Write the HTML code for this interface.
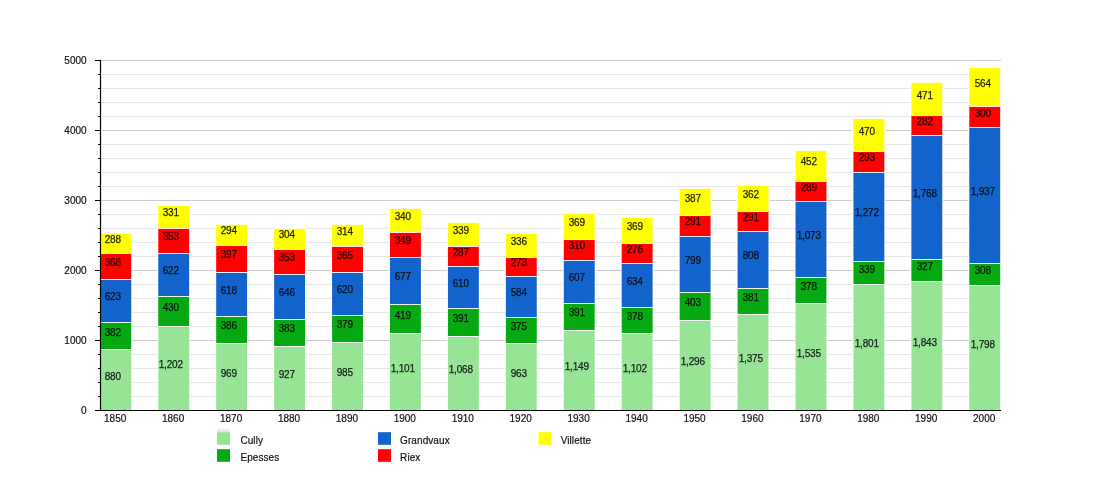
<!DOCTYPE html>
<html><head><meta charset="utf-8"><title>Population</title>
<style>html,body{margin:0;padding:0;background:#fff}svg{display:block;will-change:transform;opacity:0.999}</style>
</head><body>
<svg width="1100" height="500" viewBox="0 0 1100 500">
<rect width="1100" height="500" fill="#fff"/>
<line x1="101" x2="1001" y1="396.5" y2="396.5" stroke="#e6e6e6" stroke-width="1"/>
<line x1="101" x2="1001" y1="382.5" y2="382.5" stroke="#e6e6e6" stroke-width="1"/>
<line x1="101" x2="1001" y1="368.5" y2="368.5" stroke="#e6e6e6" stroke-width="1"/>
<line x1="101" x2="1001" y1="354.5" y2="354.5" stroke="#e6e6e6" stroke-width="1"/>
<line x1="101" x2="1001" y1="340.5" y2="340.5" stroke="#cccccc" stroke-width="1"/>
<line x1="101" x2="1001" y1="326.5" y2="326.5" stroke="#e6e6e6" stroke-width="1"/>
<line x1="101" x2="1001" y1="312.5" y2="312.5" stroke="#e6e6e6" stroke-width="1"/>
<line x1="101" x2="1001" y1="298.5" y2="298.5" stroke="#e6e6e6" stroke-width="1"/>
<line x1="101" x2="1001" y1="284.5" y2="284.5" stroke="#e6e6e6" stroke-width="1"/>
<line x1="101" x2="1001" y1="270.5" y2="270.5" stroke="#cccccc" stroke-width="1"/>
<line x1="101" x2="1001" y1="256.5" y2="256.5" stroke="#e6e6e6" stroke-width="1"/>
<line x1="101" x2="1001" y1="242.5" y2="242.5" stroke="#e6e6e6" stroke-width="1"/>
<line x1="101" x2="1001" y1="228.5" y2="228.5" stroke="#e6e6e6" stroke-width="1"/>
<line x1="101" x2="1001" y1="214.5" y2="214.5" stroke="#e6e6e6" stroke-width="1"/>
<line x1="101" x2="1001" y1="200.5" y2="200.5" stroke="#cccccc" stroke-width="1"/>
<line x1="101" x2="1001" y1="186.5" y2="186.5" stroke="#e6e6e6" stroke-width="1"/>
<line x1="101" x2="1001" y1="172.5" y2="172.5" stroke="#e6e6e6" stroke-width="1"/>
<line x1="101" x2="1001" y1="158.5" y2="158.5" stroke="#e6e6e6" stroke-width="1"/>
<line x1="101" x2="1001" y1="144.5" y2="144.5" stroke="#e6e6e6" stroke-width="1"/>
<line x1="101" x2="1001" y1="130.5" y2="130.5" stroke="#cccccc" stroke-width="1"/>
<line x1="101" x2="1001" y1="116.5" y2="116.5" stroke="#e6e6e6" stroke-width="1"/>
<line x1="101" x2="1001" y1="102.5" y2="102.5" stroke="#e6e6e6" stroke-width="1"/>
<line x1="101" x2="1001" y1="88.5" y2="88.5" stroke="#e6e6e6" stroke-width="1"/>
<line x1="101" x2="1001" y1="74.5" y2="74.5" stroke="#e6e6e6" stroke-width="1"/>
<line x1="101" x2="1001" y1="60.5" y2="60.5" stroke="#cccccc" stroke-width="1"/>
<rect x="99.35" y="232.5" width="32.90" height="177.5" fill="#fff"/>
<rect x="100.35" y="349" width="30.9" height="61.0" fill="#97e497"/>
<rect x="100.35" y="349" width="30.9" height="1" fill="#fff" fill-opacity="0.9"/>
<rect x="100.35" y="322" width="30.9" height="27" fill="#06a912"/>
<rect x="100.35" y="322" width="30.9" height="1" fill="#fff" fill-opacity="0.9"/>
<rect x="100.35" y="279" width="30.9" height="43" fill="#1263cc"/>
<rect x="100.35" y="279" width="30.9" height="1" fill="#fff" fill-opacity="0.9"/>
<rect x="100.35" y="253" width="30.9" height="26" fill="#fe0000"/>
<rect x="100.35" y="253" width="30.9" height="1" fill="#fff" fill-opacity="0.9"/>
<rect x="100.35" y="233" width="30.9" height="20" fill="#ffff00"/>
<rect x="100.35" y="233" width="30.9" height="1" fill="#fff" fill-opacity="0.9"/>
<rect x="157.28" y="204.5" width="32.90" height="205.5" fill="#fff"/>
<rect x="158.28" y="326" width="30.9" height="84.0" fill="#97e497"/>
<rect x="158.28" y="326" width="30.9" height="1" fill="#fff" fill-opacity="0.9"/>
<rect x="158.28" y="296" width="30.9" height="30" fill="#06a912"/>
<rect x="158.28" y="296" width="30.9" height="1" fill="#fff" fill-opacity="0.9"/>
<rect x="158.28" y="253" width="30.9" height="43" fill="#1263cc"/>
<rect x="158.28" y="253" width="30.9" height="1" fill="#fff" fill-opacity="0.9"/>
<rect x="158.28" y="228" width="30.9" height="25" fill="#fe0000"/>
<rect x="158.28" y="228" width="30.9" height="1" fill="#fff" fill-opacity="0.9"/>
<rect x="158.28" y="205" width="30.9" height="23" fill="#ffff00"/>
<rect x="158.28" y="205" width="30.9" height="1" fill="#fff" fill-opacity="0.9"/>
<rect x="215.21" y="223.5" width="32.90" height="186.5" fill="#fff"/>
<rect x="216.21" y="343" width="30.9" height="67.0" fill="#97e497"/>
<rect x="216.21" y="343" width="30.9" height="1" fill="#fff" fill-opacity="0.9"/>
<rect x="216.21" y="316" width="30.9" height="27" fill="#06a912"/>
<rect x="216.21" y="316" width="30.9" height="1" fill="#fff" fill-opacity="0.9"/>
<rect x="216.21" y="272" width="30.9" height="44" fill="#1263cc"/>
<rect x="216.21" y="272" width="30.9" height="1" fill="#fff" fill-opacity="0.9"/>
<rect x="216.21" y="245" width="30.9" height="27" fill="#fe0000"/>
<rect x="216.21" y="245" width="30.9" height="1" fill="#fff" fill-opacity="0.9"/>
<rect x="216.21" y="224" width="30.9" height="21" fill="#ffff00"/>
<rect x="216.21" y="224" width="30.9" height="1" fill="#fff" fill-opacity="0.9"/>
<rect x="273.14" y="227.5" width="32.90" height="182.5" fill="#fff"/>
<rect x="274.14" y="346" width="30.9" height="64.0" fill="#97e497"/>
<rect x="274.14" y="346" width="30.9" height="1" fill="#fff" fill-opacity="0.9"/>
<rect x="274.14" y="319" width="30.9" height="27" fill="#06a912"/>
<rect x="274.14" y="319" width="30.9" height="1" fill="#fff" fill-opacity="0.9"/>
<rect x="274.14" y="274" width="30.9" height="45" fill="#1263cc"/>
<rect x="274.14" y="274" width="30.9" height="1" fill="#fff" fill-opacity="0.9"/>
<rect x="274.14" y="249" width="30.9" height="25" fill="#fe0000"/>
<rect x="274.14" y="249" width="30.9" height="1" fill="#fff" fill-opacity="0.9"/>
<rect x="274.14" y="228" width="30.9" height="21" fill="#ffff00"/>
<rect x="274.14" y="228" width="30.9" height="1" fill="#fff" fill-opacity="0.9"/>
<rect x="331.07" y="223.5" width="32.90" height="186.5" fill="#fff"/>
<rect x="332.07" y="342" width="30.9" height="68.0" fill="#97e497"/>
<rect x="332.07" y="342" width="30.9" height="1" fill="#fff" fill-opacity="0.9"/>
<rect x="332.07" y="315" width="30.9" height="27" fill="#06a912"/>
<rect x="332.07" y="315" width="30.9" height="1" fill="#fff" fill-opacity="0.9"/>
<rect x="332.07" y="272" width="30.9" height="43" fill="#1263cc"/>
<rect x="332.07" y="272" width="30.9" height="1" fill="#fff" fill-opacity="0.9"/>
<rect x="332.07" y="246" width="30.9" height="26" fill="#fe0000"/>
<rect x="332.07" y="246" width="30.9" height="1" fill="#fff" fill-opacity="0.9"/>
<rect x="332.07" y="224" width="30.9" height="22" fill="#ffff00"/>
<rect x="332.07" y="224" width="30.9" height="1" fill="#fff" fill-opacity="0.9"/>
<rect x="389.00" y="207.5" width="32.90" height="202.5" fill="#fff"/>
<rect x="390.00" y="333" width="30.9" height="77.0" fill="#97e497"/>
<rect x="390.00" y="333" width="30.9" height="1" fill="#fff" fill-opacity="0.9"/>
<rect x="390.00" y="304" width="30.9" height="29" fill="#06a912"/>
<rect x="390.00" y="304" width="30.9" height="1" fill="#fff" fill-opacity="0.9"/>
<rect x="390.00" y="257" width="30.9" height="47" fill="#1263cc"/>
<rect x="390.00" y="257" width="30.9" height="1" fill="#fff" fill-opacity="0.9"/>
<rect x="390.00" y="232" width="30.9" height="25" fill="#fe0000"/>
<rect x="390.00" y="232" width="30.9" height="1" fill="#fff" fill-opacity="0.9"/>
<rect x="390.00" y="208" width="30.9" height="24" fill="#ffff00"/>
<rect x="390.00" y="208" width="30.9" height="1" fill="#fff" fill-opacity="0.9"/>
<rect x="446.93" y="221.5" width="32.90" height="188.5" fill="#fff"/>
<rect x="447.93" y="336" width="30.9" height="74.0" fill="#97e497"/>
<rect x="447.93" y="336" width="30.9" height="1" fill="#fff" fill-opacity="0.9"/>
<rect x="447.93" y="308" width="30.9" height="28" fill="#06a912"/>
<rect x="447.93" y="308" width="30.9" height="1" fill="#fff" fill-opacity="0.9"/>
<rect x="447.93" y="266" width="30.9" height="42" fill="#1263cc"/>
<rect x="447.93" y="266" width="30.9" height="1" fill="#fff" fill-opacity="0.9"/>
<rect x="447.93" y="246" width="30.9" height="20" fill="#fe0000"/>
<rect x="447.93" y="246" width="30.9" height="1" fill="#fff" fill-opacity="0.9"/>
<rect x="447.93" y="222" width="30.9" height="24" fill="#ffff00"/>
<rect x="447.93" y="222" width="30.9" height="1" fill="#fff" fill-opacity="0.9"/>
<rect x="504.86" y="232.5" width="32.90" height="177.5" fill="#fff"/>
<rect x="505.86" y="343" width="30.9" height="67.0" fill="#97e497"/>
<rect x="505.86" y="343" width="30.9" height="1" fill="#fff" fill-opacity="0.9"/>
<rect x="505.86" y="317" width="30.9" height="26" fill="#06a912"/>
<rect x="505.86" y="317" width="30.9" height="1" fill="#fff" fill-opacity="0.9"/>
<rect x="505.86" y="276" width="30.9" height="41" fill="#1263cc"/>
<rect x="505.86" y="276" width="30.9" height="1" fill="#fff" fill-opacity="0.9"/>
<rect x="505.86" y="257" width="30.9" height="19" fill="#fe0000"/>
<rect x="505.86" y="257" width="30.9" height="1" fill="#fff" fill-opacity="0.9"/>
<rect x="505.86" y="233" width="30.9" height="24" fill="#ffff00"/>
<rect x="505.86" y="233" width="30.9" height="1" fill="#fff" fill-opacity="0.9"/>
<rect x="562.79" y="212.5" width="32.90" height="197.5" fill="#fff"/>
<rect x="563.79" y="330" width="30.9" height="80.0" fill="#97e497"/>
<rect x="563.79" y="330" width="30.9" height="1" fill="#fff" fill-opacity="0.9"/>
<rect x="563.79" y="303" width="30.9" height="27" fill="#06a912"/>
<rect x="563.79" y="303" width="30.9" height="1" fill="#fff" fill-opacity="0.9"/>
<rect x="563.79" y="260" width="30.9" height="43" fill="#1263cc"/>
<rect x="563.79" y="260" width="30.9" height="1" fill="#fff" fill-opacity="0.9"/>
<rect x="563.79" y="239" width="30.9" height="21" fill="#fe0000"/>
<rect x="563.79" y="239" width="30.9" height="1" fill="#fff" fill-opacity="0.9"/>
<rect x="563.79" y="213" width="30.9" height="26" fill="#ffff00"/>
<rect x="563.79" y="213" width="30.9" height="1" fill="#fff" fill-opacity="0.9"/>
<rect x="620.72" y="216.5" width="32.90" height="193.5" fill="#fff"/>
<rect x="621.72" y="333" width="30.9" height="77.0" fill="#97e497"/>
<rect x="621.72" y="333" width="30.9" height="1" fill="#fff" fill-opacity="0.9"/>
<rect x="621.72" y="307" width="30.9" height="26" fill="#06a912"/>
<rect x="621.72" y="307" width="30.9" height="1" fill="#fff" fill-opacity="0.9"/>
<rect x="621.72" y="263" width="30.9" height="44" fill="#1263cc"/>
<rect x="621.72" y="263" width="30.9" height="1" fill="#fff" fill-opacity="0.9"/>
<rect x="621.72" y="243" width="30.9" height="20" fill="#fe0000"/>
<rect x="621.72" y="243" width="30.9" height="1" fill="#fff" fill-opacity="0.9"/>
<rect x="621.72" y="217" width="30.9" height="26" fill="#ffff00"/>
<rect x="621.72" y="217" width="30.9" height="1" fill="#fff" fill-opacity="0.9"/>
<rect x="678.65" y="187.5" width="32.90" height="222.5" fill="#fff"/>
<rect x="679.65" y="320" width="30.9" height="90.0" fill="#97e497"/>
<rect x="679.65" y="320" width="30.9" height="1" fill="#fff" fill-opacity="0.9"/>
<rect x="679.65" y="292" width="30.9" height="28" fill="#06a912"/>
<rect x="679.65" y="292" width="30.9" height="1" fill="#fff" fill-opacity="0.9"/>
<rect x="679.65" y="236" width="30.9" height="56" fill="#1263cc"/>
<rect x="679.65" y="236" width="30.9" height="1" fill="#fff" fill-opacity="0.9"/>
<rect x="679.65" y="215" width="30.9" height="21" fill="#fe0000"/>
<rect x="679.65" y="215" width="30.9" height="1" fill="#fff" fill-opacity="0.9"/>
<rect x="679.65" y="188" width="30.9" height="27" fill="#ffff00"/>
<rect x="679.65" y="188" width="30.9" height="1" fill="#fff" fill-opacity="0.9"/>
<rect x="736.58" y="184.5" width="32.90" height="225.5" fill="#fff"/>
<rect x="737.58" y="314" width="30.9" height="96.0" fill="#97e497"/>
<rect x="737.58" y="314" width="30.9" height="1" fill="#fff" fill-opacity="0.9"/>
<rect x="737.58" y="288" width="30.9" height="26" fill="#06a912"/>
<rect x="737.58" y="288" width="30.9" height="1" fill="#fff" fill-opacity="0.9"/>
<rect x="737.58" y="231" width="30.9" height="57" fill="#1263cc"/>
<rect x="737.58" y="231" width="30.9" height="1" fill="#fff" fill-opacity="0.9"/>
<rect x="737.58" y="211" width="30.9" height="20" fill="#fe0000"/>
<rect x="737.58" y="211" width="30.9" height="1" fill="#fff" fill-opacity="0.9"/>
<rect x="737.58" y="185" width="30.9" height="26" fill="#ffff00"/>
<rect x="737.58" y="185" width="30.9" height="1" fill="#fff" fill-opacity="0.9"/>
<rect x="794.51" y="149.5" width="32.90" height="260.5" fill="#fff"/>
<rect x="795.51" y="303" width="30.9" height="107.0" fill="#97e497"/>
<rect x="795.51" y="303" width="30.9" height="1" fill="#fff" fill-opacity="0.9"/>
<rect x="795.51" y="277" width="30.9" height="26" fill="#06a912"/>
<rect x="795.51" y="277" width="30.9" height="1" fill="#fff" fill-opacity="0.9"/>
<rect x="795.51" y="201" width="30.9" height="76" fill="#1263cc"/>
<rect x="795.51" y="201" width="30.9" height="1" fill="#fff" fill-opacity="0.9"/>
<rect x="795.51" y="181" width="30.9" height="20" fill="#fe0000"/>
<rect x="795.51" y="181" width="30.9" height="1" fill="#fff" fill-opacity="0.9"/>
<rect x="795.51" y="150" width="30.9" height="31" fill="#ffff00"/>
<rect x="795.51" y="150" width="30.9" height="1" fill="#fff" fill-opacity="0.9"/>
<rect x="852.44" y="117.5" width="32.90" height="292.5" fill="#fff"/>
<rect x="853.44" y="284" width="30.9" height="126.0" fill="#97e497"/>
<rect x="853.44" y="284" width="30.9" height="1" fill="#fff" fill-opacity="0.9"/>
<rect x="853.44" y="261" width="30.9" height="23" fill="#06a912"/>
<rect x="853.44" y="261" width="30.9" height="1" fill="#fff" fill-opacity="0.9"/>
<rect x="853.44" y="172" width="30.9" height="89" fill="#1263cc"/>
<rect x="853.44" y="172" width="30.9" height="1" fill="#fff" fill-opacity="0.9"/>
<rect x="853.44" y="151" width="30.9" height="21" fill="#fe0000"/>
<rect x="853.44" y="151" width="30.9" height="1" fill="#fff" fill-opacity="0.9"/>
<rect x="853.44" y="118" width="30.9" height="33" fill="#ffff00"/>
<rect x="853.44" y="118" width="30.9" height="1" fill="#fff" fill-opacity="0.9"/>
<rect x="910.37" y="81.5" width="32.90" height="328.5" fill="#fff"/>
<rect x="911.37" y="281" width="30.9" height="129.0" fill="#97e497"/>
<rect x="911.37" y="281" width="30.9" height="1" fill="#fff" fill-opacity="0.9"/>
<rect x="911.37" y="259" width="30.9" height="22" fill="#06a912"/>
<rect x="911.37" y="259" width="30.9" height="1" fill="#fff" fill-opacity="0.9"/>
<rect x="911.37" y="135" width="30.9" height="124" fill="#1263cc"/>
<rect x="911.37" y="135" width="30.9" height="1" fill="#fff" fill-opacity="0.9"/>
<rect x="911.37" y="115" width="30.9" height="20" fill="#fe0000"/>
<rect x="911.37" y="115" width="30.9" height="1" fill="#fff" fill-opacity="0.9"/>
<rect x="911.37" y="82" width="30.9" height="33" fill="#ffff00"/>
<rect x="911.37" y="82" width="30.9" height="1" fill="#fff" fill-opacity="0.9"/>
<rect x="968.30" y="66.5" width="32.90" height="343.5" fill="#fff"/>
<rect x="969.30" y="285" width="30.9" height="125.0" fill="#97e497"/>
<rect x="969.30" y="285" width="30.9" height="1" fill="#fff" fill-opacity="0.9"/>
<rect x="969.30" y="263" width="30.9" height="22" fill="#06a912"/>
<rect x="969.30" y="263" width="30.9" height="1" fill="#fff" fill-opacity="0.9"/>
<rect x="969.30" y="127" width="30.9" height="136" fill="#1263cc"/>
<rect x="969.30" y="127" width="30.9" height="1" fill="#fff" fill-opacity="0.9"/>
<rect x="969.30" y="106" width="30.9" height="21" fill="#fe0000"/>
<rect x="969.30" y="106" width="30.9" height="1" fill="#fff" fill-opacity="0.9"/>
<rect x="969.30" y="67" width="30.9" height="39" fill="#ffff00"/>
<rect x="969.30" y="67" width="30.9" height="1" fill="#fff" fill-opacity="0.9"/>
<line x1="100.5" x2="100.5" y1="60" y2="411" stroke="#000" stroke-width="1.2"/>
<line x1="95" x2="1001" y1="410.5" y2="410.5" stroke="#000" stroke-width="1.2"/>
<line x1="95" x2="101" y1="410.5" y2="410.5" stroke="#000" stroke-width="1"/>
<line x1="98" x2="101" y1="396.5" y2="396.5" stroke="#000" stroke-width="1"/>
<line x1="98" x2="101" y1="382.5" y2="382.5" stroke="#000" stroke-width="1"/>
<line x1="98" x2="101" y1="368.5" y2="368.5" stroke="#000" stroke-width="1"/>
<line x1="98" x2="101" y1="354.5" y2="354.5" stroke="#000" stroke-width="1"/>
<line x1="95" x2="101" y1="340.5" y2="340.5" stroke="#000" stroke-width="1"/>
<line x1="98" x2="101" y1="326.5" y2="326.5" stroke="#000" stroke-width="1"/>
<line x1="98" x2="101" y1="312.5" y2="312.5" stroke="#000" stroke-width="1"/>
<line x1="98" x2="101" y1="298.5" y2="298.5" stroke="#000" stroke-width="1"/>
<line x1="98" x2="101" y1="284.5" y2="284.5" stroke="#000" stroke-width="1"/>
<line x1="95" x2="101" y1="270.5" y2="270.5" stroke="#000" stroke-width="1"/>
<line x1="98" x2="101" y1="256.5" y2="256.5" stroke="#000" stroke-width="1"/>
<line x1="98" x2="101" y1="242.5" y2="242.5" stroke="#000" stroke-width="1"/>
<line x1="98" x2="101" y1="228.5" y2="228.5" stroke="#000" stroke-width="1"/>
<line x1="98" x2="101" y1="214.5" y2="214.5" stroke="#000" stroke-width="1"/>
<line x1="95" x2="101" y1="200.5" y2="200.5" stroke="#000" stroke-width="1"/>
<line x1="98" x2="101" y1="186.5" y2="186.5" stroke="#000" stroke-width="1"/>
<line x1="98" x2="101" y1="172.5" y2="172.5" stroke="#000" stroke-width="1"/>
<line x1="98" x2="101" y1="158.5" y2="158.5" stroke="#000" stroke-width="1"/>
<line x1="98" x2="101" y1="144.5" y2="144.5" stroke="#000" stroke-width="1"/>
<line x1="95" x2="101" y1="130.5" y2="130.5" stroke="#000" stroke-width="1"/>
<line x1="98" x2="101" y1="116.5" y2="116.5" stroke="#000" stroke-width="1"/>
<line x1="98" x2="101" y1="102.5" y2="102.5" stroke="#000" stroke-width="1"/>
<line x1="98" x2="101" y1="88.5" y2="88.5" stroke="#000" stroke-width="1"/>
<line x1="98" x2="101" y1="74.5" y2="74.5" stroke="#000" stroke-width="1"/>
<line x1="95" x2="101" y1="60.5" y2="60.5" stroke="#000" stroke-width="1"/>
<g font-family="'Liberation Sans', Arial, Helvetica, sans-serif" font-size="10" fill="#111" stroke="#111" stroke-width="0.18">
<text x="86.6" y="414.3" text-anchor="end">0</text>
<text x="86.6" y="344.3" text-anchor="end">1000</text>
<text x="86.6" y="274.3" text-anchor="end">2000</text>
<text x="86.6" y="204.3" text-anchor="end">3000</text>
<text x="86.6" y="134.3" text-anchor="end">4000</text>
<text x="86.6" y="64.3" text-anchor="end">5000</text>
<text x="115.2" y="422" text-anchor="middle">1850</text>
<text x="173.1" y="422" text-anchor="middle">1860</text>
<text x="231.1" y="422" text-anchor="middle">1870</text>
<text x="289.0" y="422" text-anchor="middle">1880</text>
<text x="346.9" y="422" text-anchor="middle">1890</text>
<text x="404.8" y="422" text-anchor="middle">1900</text>
<text x="462.8" y="422" text-anchor="middle">1910</text>
<text x="520.7" y="422" text-anchor="middle">1920</text>
<text x="578.6" y="422" text-anchor="middle">1930</text>
<text x="636.6" y="422" text-anchor="middle">1940</text>
<text x="694.5" y="422" text-anchor="middle">1950</text>
<text x="752.4" y="422" text-anchor="middle">1960</text>
<text x="810.4" y="422" text-anchor="middle">1970</text>
<text x="868.3" y="422" text-anchor="middle">1980</text>
<text x="926.2" y="422" text-anchor="middle">1990</text>
<text x="984.2" y="422" text-anchor="middle">2000</text>
<g fill="#0a0a0a" stroke="#0a0a0a" stroke-width="0.25" letter-spacing="-0.15" opacity="0.9">
<text x="112.8" y="380" text-anchor="middle">880</text>
<text x="112.8" y="336" text-anchor="middle">382</text>
<text x="112.8" y="300" text-anchor="middle">623</text>
<text x="112.8" y="266" text-anchor="middle">368</text>
<text x="112.8" y="243" text-anchor="middle">288</text>
<text x="170.8" y="368" text-anchor="middle">1,202</text>
<text x="170.8" y="311" text-anchor="middle">430</text>
<text x="170.8" y="274" text-anchor="middle">622</text>
<text x="170.8" y="240" text-anchor="middle">353</text>
<text x="170.8" y="216" text-anchor="middle">331</text>
<text x="228.8" y="377" text-anchor="middle">969</text>
<text x="228.8" y="329" text-anchor="middle">386</text>
<text x="228.8" y="294" text-anchor="middle">618</text>
<text x="228.8" y="258" text-anchor="middle">397</text>
<text x="228.8" y="234" text-anchor="middle">294</text>
<text x="286.8" y="378" text-anchor="middle">927</text>
<text x="286.8" y="332" text-anchor="middle">383</text>
<text x="286.8" y="296" text-anchor="middle">646</text>
<text x="286.8" y="261" text-anchor="middle">353</text>
<text x="286.8" y="238" text-anchor="middle">304</text>
<text x="344.8" y="376" text-anchor="middle">985</text>
<text x="344.8" y="328" text-anchor="middle">379</text>
<text x="344.8" y="293" text-anchor="middle">620</text>
<text x="344.8" y="259" text-anchor="middle">365</text>
<text x="344.8" y="235" text-anchor="middle">314</text>
<text x="402.8" y="372" text-anchor="middle">1,101</text>
<text x="402.8" y="319" text-anchor="middle">419</text>
<text x="402.8" y="280" text-anchor="middle">677</text>
<text x="402.8" y="244" text-anchor="middle">349</text>
<text x="402.8" y="220" text-anchor="middle">340</text>
<text x="460.8" y="373" text-anchor="middle">1,068</text>
<text x="460.8" y="322" text-anchor="middle">391</text>
<text x="460.8" y="287" text-anchor="middle">610</text>
<text x="460.8" y="256" text-anchor="middle">287</text>
<text x="460.8" y="234" text-anchor="middle">339</text>
<text x="518.8" y="377" text-anchor="middle">963</text>
<text x="518.8" y="330" text-anchor="middle">375</text>
<text x="518.8" y="296" text-anchor="middle">584</text>
<text x="518.8" y="266" text-anchor="middle">273</text>
<text x="518.8" y="245" text-anchor="middle">336</text>
<text x="576.8" y="370" text-anchor="middle">1,149</text>
<text x="576.8" y="316" text-anchor="middle">391</text>
<text x="576.8" y="281" text-anchor="middle">607</text>
<text x="576.8" y="249" text-anchor="middle">310</text>
<text x="576.8" y="226" text-anchor="middle">369</text>
<text x="634.8" y="372" text-anchor="middle">1,102</text>
<text x="634.8" y="320" text-anchor="middle">378</text>
<text x="634.8" y="285" text-anchor="middle">634</text>
<text x="634.8" y="253" text-anchor="middle">276</text>
<text x="634.8" y="230" text-anchor="middle">369</text>
<text x="692.8" y="365" text-anchor="middle">1,296</text>
<text x="692.8" y="306" text-anchor="middle">403</text>
<text x="692.8" y="264" text-anchor="middle">799</text>
<text x="692.8" y="225" text-anchor="middle">291</text>
<text x="692.8" y="202" text-anchor="middle">387</text>
<text x="750.8" y="362" text-anchor="middle">1,375</text>
<text x="750.8" y="301" text-anchor="middle">381</text>
<text x="750.8" y="259" text-anchor="middle">808</text>
<text x="750.8" y="221" text-anchor="middle">291</text>
<text x="750.8" y="198" text-anchor="middle">362</text>
<text x="808.8" y="357" text-anchor="middle">1,535</text>
<text x="808.8" y="290" text-anchor="middle">378</text>
<text x="808.8" y="239" text-anchor="middle">1,073</text>
<text x="808.8" y="191" text-anchor="middle">289</text>
<text x="808.8" y="165" text-anchor="middle">452</text>
<text x="866.8" y="347" text-anchor="middle">1,801</text>
<text x="866.8" y="273" text-anchor="middle">339</text>
<text x="866.8" y="216" text-anchor="middle">1,272</text>
<text x="866.8" y="161" text-anchor="middle">293</text>
<text x="866.8" y="135" text-anchor="middle">470</text>
<text x="924.8" y="346" text-anchor="middle">1,843</text>
<text x="924.8" y="270" text-anchor="middle">327</text>
<text x="924.8" y="197" text-anchor="middle">1,768</text>
<text x="924.8" y="125" text-anchor="middle">282</text>
<text x="924.8" y="99" text-anchor="middle">471</text>
<text x="982.8" y="348" text-anchor="middle">1,798</text>
<text x="982.8" y="274" text-anchor="middle">308</text>
<text x="982.8" y="195" text-anchor="middle">1,937</text>
<text x="982.8" y="117" text-anchor="middle">300</text>
<text x="982.8" y="87" text-anchor="middle">564</text>
</g>
<defs><linearGradient id="fade" x1="0" y1="0" x2="0" y2="1"><stop offset="0" stop-color="#97e497" stop-opacity="0"/><stop offset="1" stop-color="#97e497" stop-opacity="0.55"/></linearGradient></defs>
<rect x="217" y="427.5" width="13" height="4.7" fill="url(#fade)" stroke="none"/>
<rect x="217" y="432.2" width="13" height="12.6" fill="#97e497" stroke="none"/>
<text x="240.4" y="444" letter-spacing="0.08">Cully</text>
<rect x="217" y="449.2" width="13" height="12.6" fill="#06a912" stroke="none"/>
<text x="240.4" y="461" letter-spacing="0.08">Epesses</text>
<rect x="378" y="432.2" width="13" height="12.6" fill="#1263cc" stroke="none"/>
<text x="400.1" y="444" letter-spacing="0.08">Grandvaux</text>
<rect x="378" y="449.2" width="13" height="12.6" fill="#fe0000" stroke="none"/>
<text x="400.1" y="461" letter-spacing="0.08">Riex</text>
<rect x="538.5" y="432.2" width="13" height="12.6" fill="#ffff00" stroke="none"/>
<text x="560.7" y="444" letter-spacing="0.08">Villette</text>
</g>
</svg>
</body></html>
